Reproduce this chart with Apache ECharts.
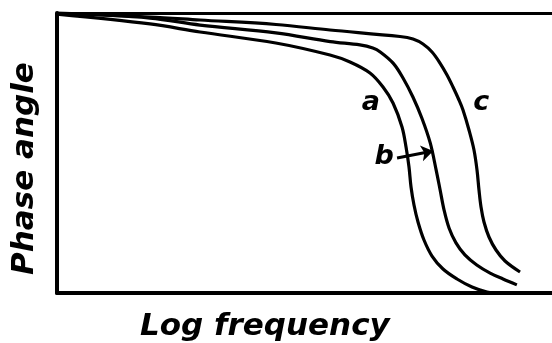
<!DOCTYPE html>
<html>
<head>
<meta charset="utf-8">
<script src="https://cdn.jsdelivr.net/npm/echarts@6/dist/echarts.min.js"></script>
<style>
  html, body { margin: 0; padding: 0; background: #fff; }
  #chart { width: 552px; height: 343px; }
</style>
</head>
<body>
<div id="chart"></div>
<script>
// Phase angle vs. log frequency, three relaxation curves (arbitrary units 0-100)
const curveA = [
  [0, 99.6], [18.8, 96.1], [28.9, 93.2], [44.2, 89.3], [55.15, 85.0], [59.19, 82.5],
  [63.23, 78.57], [65.86, 73.57], [67.88, 67.86], [69.70, 59.29], [70.51, 52.14],
  [71.11, 45.0], [71.52, 37.86], [72.12, 31.43], [72.93, 25.36], [74.14, 18.93],
  [75.76, 13.21], [77.98, 8.57], [80.81, 5.0], [83.84, 2.14], [86.87, 0.36], [88.89, 0]
];
const curveB = [
  [0, 100], [18.8, 98.2], [28.9, 95.7], [44.2, 92.9], [55.2, 89.8], [61.2, 88.6],
  [63.8, 87.5], [65.3, 86.1], [67.9, 82.1], [69.9, 76.8], [71.9, 70.0], [73.7, 62.5],
  [75.4, 53.6], [76.6, 43.9], [77.4, 36.8], [78.2, 29.6], [79.2, 23.2], [80.6, 17.9],
  [82.4, 13.6], [84.8, 10.0], [87.5, 7.1], [90.1, 5.0], [92.9, 2.9]
];
const curveC = [
  [0, 100], [18.79, 98.57], [28.89, 97.5], [44.24, 95.89], [55.15, 93.93], [69.29, 91.61],
  [71.92, 90.71], [73.94, 88.93], [75.76, 86.07], [77.37, 82.14], [78.79, 77.86],
  [80.0, 73.57], [81.21, 68.93], [82.02, 65.36], [83.23, 58.21], [84.24, 51.07],
  [84.85, 43.93], [85.25, 36.79], [85.66, 30.71], [86.26, 25.36], [87.27, 20.0],
  [88.69, 15.36], [90.51, 11.43], [93.54, 7.5]
];
// Curve letters and the arrow pointing from "b" to its curve
const curveLabels = [
  { name: 'a', at: [63.4, 67.9] },
  { name: 'b', at: [66.1, 48.6] },
  { name: 'c', at: [85.7, 67.9] }
];
const arrowFrom = [68.7, 48.2];
const arrowTo = [76.0, 50.7];
const xTitle = 'Log frequency';
const yTitle = 'Phase angle';

const font = '"DejaVu Sans", sans-serif';
const titleStyle = { fontFamily: font, fontSize: 31, fontWeight: 'bold', fontStyle: 'italic', fill: '#000' };
const chart = echarts.init(document.getElementById('chart'), null, { renderer: 'canvas' });

function curve(data) {
  return {
    type: 'line', data: data, smooth: 0.35, symbol: 'none',
    lineStyle: { color: '#000', width: 3.2 }, z: 3
  };
}

function bareAxis(extra) {
  return Object.assign({
    type: 'value', min: 0, max: 100,
    axisTick: { show: false }, axisLabel: { show: false }, splitLine: { show: false }
  }, extra);
}

chart.setOption({
  animation: false,
  backgroundColor: '#fff',
  grid: { left: 57, right: 0, top: 13, bottom: 50, outerBoundsMode: 'none', containLabel: false },
  xAxis: [
    bareAxis({ position: 'bottom', axisLine: { show: true, lineStyle: { color: '#000', width: 4 } } }),
    bareAxis({ position: 'top', axisLine: { show: true, lineStyle: { color: '#000', width: 3 } } })
  ],
  yAxis: bareAxis({ axisLine: { show: true, lineStyle: { color: '#000', width: 4 } } }),
  graphic: [
    {
      type: 'text', left: 140, top: 311,
      style: Object.assign({ text: xTitle }, titleStyle)
    },
    {
      type: 'text', x: 9, y: 275, rotation: Math.PI / 2,
      style: Object.assign({ text: yTitle }, titleStyle)
    }
  ],
  series: [
    curve(curveA),
    Object.assign(curve(curveB), {
      markLine: {
        silent: true, symbol: ['none', 'arrow'], symbolSize: 12,
        lineStyle: { color: '#000', width: 3, type: 'solid' },
        label: { show: false },
        data: [[{ coord: arrowFrom }, { coord: arrowTo }]]
      },
      markPoint: {
        symbol: 'circle', symbolSize: 0,
        label: {
          show: true, formatter: '{b}', color: '#000',
          fontFamily: font, fontSize: 27, fontWeight: 'bold', fontStyle: 'italic'
        },
        data: curveLabels.map(l => ({ name: l.name, coord: l.at }))
      }
    }),
    curve(curveC)
  ]
});
</script>
</body>
</html>
